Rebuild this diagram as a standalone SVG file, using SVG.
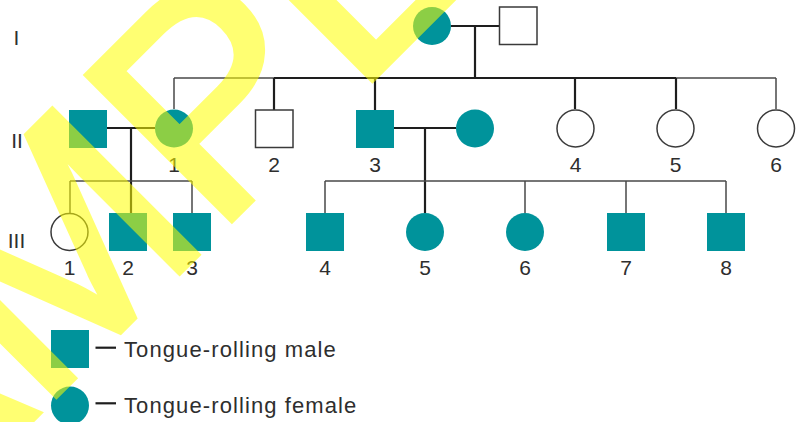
<svg xmlns="http://www.w3.org/2000/svg" width="798" height="422" viewBox="0 0 798 422">
  <style>
    .aff { fill: #00939b; }
    .unaff { fill: #ffffff; stroke: #3a3a3a; stroke-width: 1.5; }
    .thick { stroke: #1e1e1e; stroke-width: 2.2; fill: none; }
    .thin { stroke: #484848; stroke-width: 1.5; fill: none; }
    .lbl { font-family: "Liberation Sans", Arial, sans-serif; font-size: 21px; fill: #2e2e2e; text-anchor: middle; }
    .gen { font-family: "Liberation Sans", Arial, sans-serif; font-size: 21px; fill: #2e2e2e; text-anchor: middle; }
    .key { font-family: "Liberation Sans", Arial, sans-serif; font-size: 22px; fill: #2e2e2e; letter-spacing: 1.1px; }
    .mark { font-family: "Liberation Sans", Arial, sans-serif; font-size: 298px; fill: #ffff00; stroke: #ffff00; stroke-width: 6; stroke-linejoin: miter; }
  </style>
  <rect width="798" height="422" fill="#ffffff"/>

  <!-- connectors -->
  <g id="connectors">
    <!-- generation I mating and descent -->
    <line class="thick" x1="451" y1="26" x2="499" y2="26"/>
    <line class="thick" x1="475" y1="26" x2="475" y2="78"/>
    <!-- generation II sibship -->
    <line class="thin" x1="174" y1="78" x2="274" y2="78"/>
    <line class="thick" x1="274" y1="78" x2="676" y2="78"/>
    <line class="thin" x1="676" y1="78" x2="776" y2="78"/>
    <line class="thin" x1="174" y1="78" x2="174" y2="109"/>
    <line class="thick" x1="274" y1="78" x2="274" y2="110"/>
    <line class="thick" x1="375" y1="78" x2="375" y2="110"/>
    <line class="thick" x1="575" y1="78" x2="575" y2="109"/>
    <line class="thick" x1="676" y1="78" x2="676" y2="109"/>
    <line class="thin" x1="776" y1="78" x2="776" y2="109"/>
    <!-- II-1 family -->
    <line class="thick" x1="107" y1="128" x2="155" y2="128"/>
    <line class="thick" x1="131" y1="128" x2="131" y2="213"/>
    <line class="thin" x1="70" y1="181" x2="192" y2="181"/>
    <line class="thin" x1="70" y1="181" x2="70" y2="213"/>
    <line class="thin" x1="192" y1="181" x2="192" y2="213"/>
    <!-- II-3 family -->
    <line class="thick" x1="394" y1="128" x2="456" y2="128"/>
    <line class="thick" x1="425" y1="128" x2="425" y2="213"/>
    <line class="thin" x1="325" y1="181" x2="726" y2="181"/>
    <line class="thin" x1="325" y1="181" x2="325" y2="213"/>
    <line class="thin" x1="525" y1="181" x2="525" y2="213"/>
    <line class="thin" x1="626" y1="181" x2="626" y2="213"/>
    <line class="thin" x1="726" y1="181" x2="726" y2="213"/>
  </g>

  <!-- generation labels -->
  <text class="gen" x="16.5" y="45">I</text>
  <text class="gen" x="17" y="148">II</text>
  <text class="gen" x="16.5" y="248">III</text>

  <!-- generation I -->
  <g id="I-1"><circle class="aff" cx="432" cy="26" r="19"/></g>
  <g id="I-2"><rect class="unaff" x="499.5" y="7" width="37.5" height="37.5"/></g>

  <!-- generation II -->
  <g id="II-1-spouse"><rect class="aff" x="69" y="110" width="38" height="38"/></g>
  <g id="II-1"><circle class="aff" cx="174" cy="128.5" r="19"/><text class="lbl" x="174" y="172">1</text></g>
  <g id="II-2"><rect class="unaff" x="255.5" y="110" width="37.5" height="37.5"/><text class="lbl" x="274" y="172">2</text></g>
  <g id="II-3"><rect class="aff" x="356" y="110" width="38" height="38"/><text class="lbl" x="375" y="172">3</text></g>
  <g id="II-3-spouse"><circle class="aff" cx="475" cy="128.5" r="19"/></g>
  <g id="II-4"><circle class="unaff" cx="575.5" cy="128.5" r="18.5"/><text class="lbl" x="575.5" y="172">4</text></g>
  <g id="II-5"><circle class="unaff" cx="675.5" cy="128.5" r="18.5"/><text class="lbl" x="675.5" y="172">5</text></g>
  <g id="II-6"><circle class="unaff" cx="776" cy="128.5" r="18.5"/><text class="lbl" x="776" y="172">6</text></g>

  <!-- generation III -->
  <g id="III-1"><circle class="unaff" cx="69.5" cy="232" r="18.5"/><text class="lbl" x="69.5" y="275">1</text></g>
  <g id="III-2"><rect class="aff" x="109" y="213" width="38" height="38"/><text class="lbl" x="128" y="275">2</text></g>
  <g id="III-3"><rect class="aff" x="173" y="213" width="38" height="38"/><text class="lbl" x="192" y="275">3</text></g>
  <g id="III-4"><rect class="aff" x="306" y="213" width="38" height="38"/><text class="lbl" x="325" y="275">4</text></g>
  <g id="III-5"><circle class="aff" cx="425" cy="232" r="19"/><text class="lbl" x="425" y="275">5</text></g>
  <g id="III-6"><circle class="aff" cx="525" cy="232" r="19"/><text class="lbl" x="525" y="275">6</text></g>
  <g id="III-7"><rect class="aff" x="607" y="213" width="38" height="38"/><text class="lbl" x="626" y="275">7</text></g>
  <g id="III-8"><rect class="aff" x="707" y="213" width="38" height="38"/><text class="lbl" x="726" y="275">8</text></g>

  <!-- key -->
  <g id="key-male">
    <rect class="aff" x="51" y="330" width="38" height="38"/>
    <line class="thick" x1="95.5" y1="347.7" x2="116" y2="347.7"/>
    <text class="key" x="124" y="357">Tongue-rolling male</text>
  </g>
  <g id="key-female">
    <circle class="aff" cx="70" cy="405.5" r="19"/>
    <line class="thick" x1="95.5" y1="403.3" x2="116" y2="403.3"/>
    <text class="key" x="124" y="412.5">Tongue-rolling female</text>
  </g>

  <!-- translucent watermark across the chart; group opacity keeps fill and stroke from stacking -->
  <g opacity="0.55">
    <text class="mark" transform="translate(-242,694) rotate(-45)">SAMPLE</text>
  </g>
</svg>
